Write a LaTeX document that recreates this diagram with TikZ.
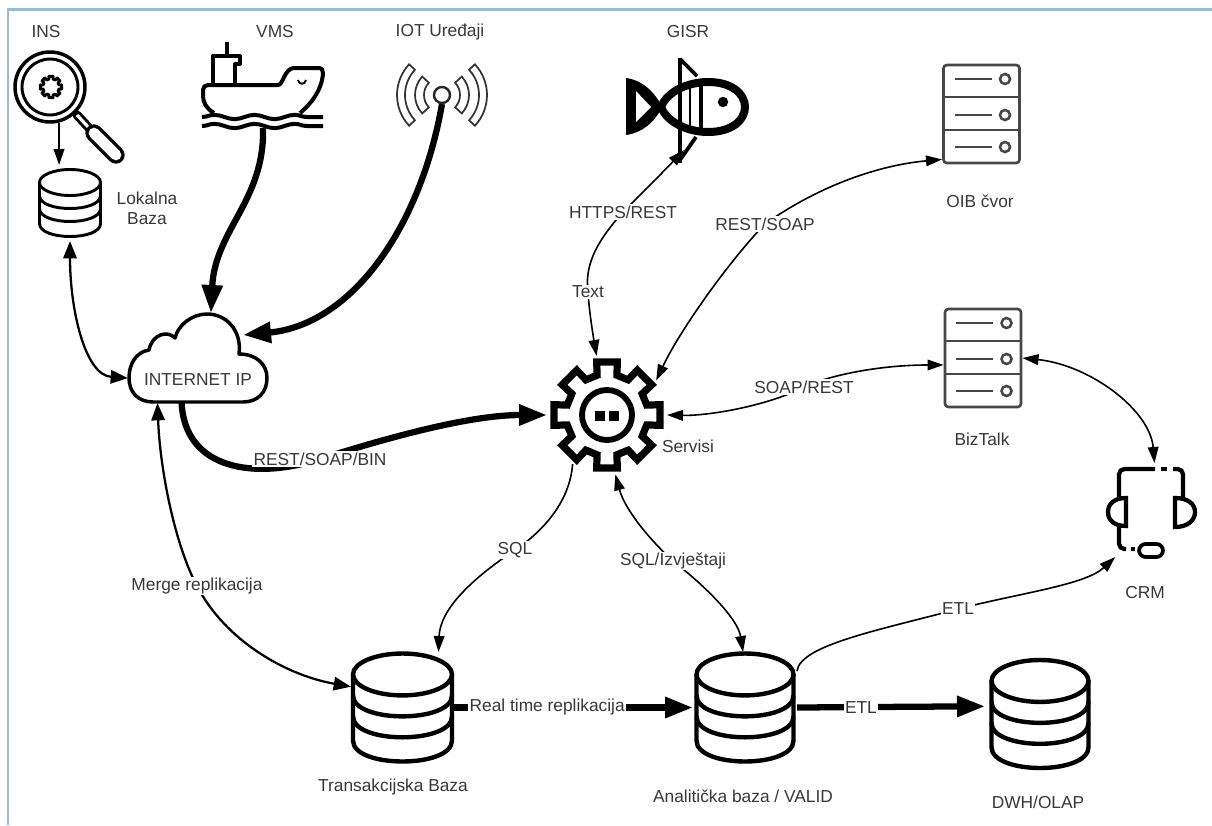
\documentclass[tikz,border=0pt]{standalone}
\usepackage{fontspec}
\setmainfont{Liberation Sans}
\usetikzlibrary{arrows.meta,decorations.pathmorphing}
\def\geartooth#1{(#1-14:41) -- (#1-11:54) -- (#1+11:54) -- (#1+14:41)}
\def\gearpath{\geartooth{0} -- \geartooth{45} -- \geartooth{90} -- \geartooth{135} -- \geartooth{180} -- \geartooth{225} -- \geartooth{270} -- \geartooth{315} -- cycle}
\def\iotband(#1)(#2:#3:#4:#5){\draw[line width=1.3pt, black!80, shift={(#1)}] (#2:#4) arc (#2:#3:#4) -- (#3:#5) arc (#3:#2:#5) -- cycle;}
\tikzset{
	iconbox/.style 2 args={inner sep=0pt, outer sep=0pt, minimum width=#1*0.75pt, minimum height=#2*0.75pt},
	iconround/.style={inner sep=0pt, outer sep=0pt, circle, minimum size=#1*0.75pt},
	lbl/.style={font=\fontsize{13}{15}\selectfont, text=black!78, inner sep=1pt},
	lblw/.style={lbl, fill=white},
	thinlink/.style={line width=1.2pt, black, {Triangle[length=12pt,width=8pt]}-{Triangle[length=12pt,width=8pt]}},
	thinone/.style={line width=1.2pt, black, -{Triangle[length=12pt,width=8pt]}},
	midlink/.style={line width=1.7pt, black, {Triangle[length=13pt,width=10pt]}-{Triangle[length=13pt,width=10pt]}},
	fatlink/.style={line width=4.7pt, black, -{Triangle[length=21pt,width=15pt]}},
	dbicon/.pic={
		\draw (0,-0.612) ellipse [x radius=1, y radius=0.388];
		\draw (-1,-0.612) -- (-1,0.612) .. controls (-1,1.129) and (1,1.129) .. (1,0.612) -- (1,-0.612);
		\draw (-1,-0.224) .. controls (-1,0.293) and (1,0.293) .. (1,-0.224);
		\draw (-1,0.164) .. controls (-1,0.681) and (1,0.681) .. (1,0.164);
	},
	servericon/.pic={
		\draw[line width=2pt, black!72, rounded corners=2.5pt] (-38,-49) rectangle (38,49);
		\draw[line width=2pt, black!72] (-38,-17) -- (38,-17);
		\draw[line width=2pt, black!72] (-38,16) -- (38,16);
		\draw[line width=1.9pt, black!72] (-27,-35) -- (10,-35);
		\draw[line width=1.9pt, black!72] (-27,1) -- (10,1);
		\draw[line width=1.9pt, black!72] (-27,33) -- (10,33);
		\draw[line width=1.9pt, black!72] (23.5,-35) circle (5);
		\draw[line width=1.9pt, black!72] (23.5,1) circle (5);
		\draw[line width=1.9pt, black!72] (23.5,33) circle (5);
	}
}
\begin{document}
\begin{tikzpicture}[x=0.75pt, y=-0.75pt]
	\useasboundingbox (0,0) rectangle (1212,825);

	\draw[line width=1.9pt, color={rgb,255:red,154;green,185;blue,217}] (1212,9.5) -- (8,9.5) -- (8,825);

	% icons
	\node[iconround=74] (ins) at (50,87) {};
	\node[iconbox={64}{76}] (lokalna) at (70,203) {};
	\node[iconbox={122}{86}] (vms) at (263,85) {};
	\node[iconround=18] (iot) at (442,95) {};
	\node[iconbox={124}{93}] (gisr) at (688,103.5) {};
	\node[iconbox={79}{100}] (oib) at (981.5,114) {};
	\node[iconbox={79}{100}] (biztalk) at (983,358) {};
	\node[iconbox={140}{90}] (internet) at (198,358) {};
	\coordinate (internetne) at (243,335);
	\node[iconround=120] (gear) at (607,415) {};
	\node[iconbox={90}{94}] (crm) at (1152,510) {};
	\node[iconbox={103}{111}] (trans) at (402.5,707.5) {};
	\node[iconbox={104}{111}] (ana) at (745,707.5) {};
	\node[iconbox={110}{111}] (dwh) at (1040,714) {};

	% magnifier
	\draw[line width=6.8pt, line cap=round] (77,115) -- (90,129);
	\draw[line width=2.4pt, white] (77,115) -- (90,129);
	\draw[line width=13pt, line cap=round] (94,133) -- (116,155);
	\draw[line width=8pt, line cap=round, white] (94,133) -- (116,155);
	\draw[line width=2.6pt, fill=white] (50,87) circle (35);
	\draw[line width=2.2pt] (50,87) circle (28);
	\draw[line width=2.2pt, line join=round, shift={(51,87)}, scale=0.2] \gearpath;

	\pic[xscale=30.5, yscale=33.5, line width=2.2pt] at (70,203) {dbicon};

	% ship
	\draw[line width=3.2pt] (227,42) -- (227,56);
	\draw[line width=3pt, line join=round] (213,85) -- (213,56) -- (240,56) -- (240,64) -- (235,64) -- (235,85);
	\draw[line width=3pt, line join=round] (214,113) .. controls (207,109) and (203,103) .. (203,96) -- (203,90) .. controls (203,87) and (205,85) .. (208,85) -- (278,85) .. controls (283,85) and (284,70) .. (293,68) -- (318,68) .. controls (322,68) and (323,70) .. (323,73) .. controls (322,90) and (311,104) .. (300,113);
	\draw[line width=3pt, decorate, decoration={snake, segment length=30pt, amplitude=1.6pt}] (202,117) -- (323,117);
	\draw[line width=3pt, decorate, decoration={snake, segment length=30pt, amplitude=1.6pt}] (202,126) -- (323,126);
	\draw[line width=1.4pt] (298,80) .. controls (299,85) and (305,85) .. (306,80);

	% iot
	\draw[line width=1.8pt, black!85] (iot) circle (8);
	\iotband(442,95)(137:223:18:27)
	\iotband(442,95)(137:223:37:45)
	\iotband(442,95)(-43:43:18:27)
	\iotband(442,95)(-43:43:37:45)

	% fish
	\fill (626,78) .. controls (642,80) and (655,92) .. (662,107) .. controls (655,122) and (642,133) .. (626,135) -- cycle;
	\fill[white] (636,91) -- (651,107) -- (636,122) -- cycle;
	\draw[line width=2.8pt, line join=round] (680,59) -- (697,76);
	\draw[line width=2.8pt, line join=round] (696,137) -- (680,160);
	\draw[line width=6pt, line join=round, fill=white] (661,107) .. controls (668,90) and (690,82) .. (708,82) .. controls (732,82) and (745,94) .. (745,107) .. controls (745,120) and (732,132) .. (708,132) .. controls (690,132) and (668,124) .. (661,107) -- cycle;
	\draw[line width=3.6pt] (680,58) -- (680,163);
	\draw[line width=2pt] (690,82) -- (690,132);
	\draw[line width=3.4pt] (701,82) -- (701,132);
	\fill (723,102) circle (5.2);

	\pic at (oib) {servericon};
	\pic at (biztalk) {servericon};

	% cloud
	\draw[line width=2.6pt, line join=round] (153,402) -- (243,402) .. controls (258,402) and (267,392) .. (267,378) .. controls (267,364) and (256,354) .. (239,354) .. controls (242,330) and (226,314) .. (207,314) .. controls (192,314) and (178,325) .. (175,338) .. controls (168,330) and (152,334) .. (149,350) .. controls (136,352) and (129,364) .. (129,378) .. controls (129,392) and (138,402) .. (153,402) -- cycle;

	% gear
	\draw[line width=5.4pt, line join=miter, shift={(607,415)}] \gearpath;
	\draw[line width=4.4pt] (607,415) circle (25);
	\fill (595,411) rectangle (605,421);
	\fill (609,411) rectangle (619,421);

	% headset
	\draw[line width=3.2pt, rounded corners=4pt] (1119,498) -- (1119,469) -- (1155,469);
	\draw[line width=3.2pt] (1161,469) -- (1167,469);
	\draw[line width=3.2pt, rounded corners=4pt] (1173,469) -- (1183,469) -- (1183,498);
	\draw[line width=3.2pt] (1126,498) -- (1126,526) .. controls (1114,526) and (1108,520) .. (1108,512) .. controls (1108,504) and (1114,498) .. (1126,498) -- cycle;
	\draw[line width=3.2pt] (1175,498) -- (1175,527) .. controls (1188,527) and (1195,520) .. (1195,512) .. controls (1195,504) and (1188,498) .. (1175,498) -- cycle;
	\draw[line width=3.2pt, rounded corners=4pt] (1119,526) -- (1119,549) -- (1126,549);
	\draw[line width=3.2pt] (1131,549) -- (1135,549);
	\draw[line width=2.8pt, rounded corners=5pt] (1139,544) rectangle (1163,557);

	\pic[xscale=49.5, yscale=54, line width=3.3pt] at (402.5,707.5) {dbicon};
	\pic[xscale=48.5, yscale=54, line width=3.3pt] at (745,707.5) {dbicon};
	\pic[xscale=48.5, yscale=54, line width=3.3pt] at (1040,714) {dbicon};

	% connectors
	\draw[thinone] (ins.-76) -- (lokalna.106);
	\draw[midlink] (lokalna.south) .. controls (70,310) and (85,375) .. (internet.196);
	\draw[fatlink] (vms.south) .. controls (265,200) and (215,230) .. (internet.74);
	\draw[fatlink] (iot.south) .. controls (420,230) and (350,325) .. (internetne);
	\draw[fatlink] (internet.250) .. controls (185,470) and (255,480) .. (320,459) node[lblw] (binlbl) {REST/SOAP/BIN} .. controls (390,437) and (470,415) .. (gear.west);
	\draw[thinlink] (gear.100) .. controls (593,335) and (589,310) .. (588,292) node[lblw] (textlbl) {Text} .. controls (584,262) and (600,238) .. (623,212) node[lblw] (httpslbl) {HTTPS/REST} .. controls (645,190) and (665,170) .. (gisr.265);
	\draw[thinlink] (gear.35) .. controls (680,330) and (730,260) .. (765,224) node[lblw] (restlbl) {REST/SOAP} .. controls (820,185) and (880,165) .. (oib.229);
	\draw[thinlink] (gear.east) .. controls (710,416) and (770,405) .. (804,387) node[lblw] (soaplbl) {SOAP/REST} .. controls (830,375) and (880,365) .. (biztalk.190);
	\draw[thinlink] (biztalk.east) .. controls (1090,365) and (1150,410) .. (crm.87);
	\draw[thinone] (ana.35) .. controls (800,645) and (880,630) .. (958,609) node[lblw] (etlcrmlbl) {ETL} .. controls (1020,593) and (1085,585) .. (crm.232);
	\draw[thinone] (gear.235) .. controls (570,500) and (545,530) .. (515,550) node[lblw] (sqllbl) {SQL} .. controls (470,580) and (440,610) .. (trans.57);
	\draw[thinlink] (gear.-82) .. controls (625,510) and (650,540) .. (673,561) node[lblw] (izvlbl) {SQL/Izvještaji} .. controls (710,590) and (738,620) .. (ana.92);
	\draw[midlink] (internet.228) .. controls (160,470) and (175,545) .. (197,586) node[lblw] (mergelbl) {Merge replikacija} .. controls (225,640) and (285,675) .. (trans.158);
	\draw[fatlink] (trans.east) -- (ana.west) node[lblw, pos=0.39] (rtlbl) {Real time replikacija};
	\draw[fatlink] (ana.east) -- (dwh.172.8) node[lblw, pos=0.34] (etldwhlbl) {ETL};

	% labels
	\node[lbl] (inslbl) at (46,32) {INS};
	\node[lbl] (vmslbl) at (275,32) {VMS};
	\node[lbl] (iotlbl) at (440,32) {IOT Uređaji};
	\node[lbl] (gisrlbl) at (688,32) {GISR};
	\node[lbl, align=center] (lokalnalbl) at (147,208) {Lokalna\\Baza};
	\node[lbl] (oiblbl) at (980,201) {OIB čvor};
	\node[lbl] (bizlbl) at (982,439) {BizTalk};
	\node[lbl] (netlbl) at (198,380) {INTERNET IP};
	\node[lbl] (serlbl) at (688,446) {Servisi};
	\node[lbl] (crmlbl) at (1145,593) {CRM};
	\node[lbl] (translbl) at (393,787) {Transakcijska Baza};
	\node[lbl] (analbl) at (743,796) {Analitička baza / VALID};
	\node[lbl] (dwhlbl) at (1038,802) {DWH/OLAP};
\end{tikzpicture}
\end{document}
